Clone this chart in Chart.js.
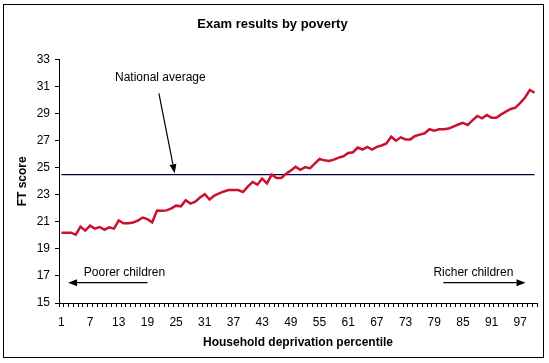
<!DOCTYPE html>
<html>
<head>
<meta charset="utf-8">
<script src="https://cdn.jsdelivr.net/npm/chart.js@4/dist/chart.umd.min.js"></script>
<style>
  html, body { margin: 0; padding: 0; background: #fff; }
  canvas { display: block; }
</style>
</head>
<body>
<canvas id="poverty" width="549" height="363"></canvas>
<script>
// categories: household deprivation percentile
const percentiles = [
  '1','2','3','4','5','6','7','8','9','10',
  '11','12','13','14','15','16','17','18','19','20',
  '21','22','23','24','25','26','27','28','29','30',
  '31','32','33','34','35','36','37','38','39','40',
  '41','42','43','44','45','46','47','48','49','50',
  '51','52','53','54','55','56','57','58','59','60',
  '61','62','63','64','65','66','67','68','69','70',
  '71','72','73','74','75','76','77','78','79','80',
  '81','82','83','84','85','86','87','88','89','90',
  '91','92','93','94','95','96','97','98','99','100'
];

// FT score
const ftScore = [
  20.2, 20.2, 20.2, 20.05, 20.65, 20.35, 20.72, 20.5, 20.62, 20.42,
  20.6, 20.5, 21.1, 20.9, 20.9, 20.95, 21.1, 21.32, 21.2, 20.97,
  21.84, 21.82, 21.85, 22.0, 22.2, 22.15, 22.6, 22.35, 22.5, 22.8,
  23.05, 22.65, 22.95, 23.1, 23.25, 23.35, 23.35, 23.35, 23.2, 23.6,
  23.95, 23.75, 24.2, 23.85, 24.5, 24.25, 24.25, 24.55, 24.8, 25.07,
  24.85, 25.05, 24.95, 25.3, 25.65, 25.55, 25.5, 25.6, 25.75, 25.85,
  26.1, 26.15, 26.5, 26.35, 26.55, 26.35, 26.55, 26.65, 26.8, 27.3,
  27.0, 27.25, 27.1, 27.1, 27.35, 27.45, 27.55, 27.85, 27.75, 27.85,
  27.85, 27.9, 28.05, 28.2, 28.33, 28.16, 28.5, 28.83, 28.66, 28.9,
  28.7, 28.7, 28.95, 29.15, 29.35, 29.45, 29.8, 30.2, 30.75, 30.55
];

const nationalAverage = 24.5;

// labels shown on the x axis
const tickLabels = ['1','7','13','19','25','31','37','43','49','55','61','67','73','79','85','91','97'];

// text notes and arrows, in data units (category index, score)
const notes = [
  { text: 'National average', x: 20.7, y: 31.65 },
  { text: 'Poorer children', x: 13.2, y: 17.25 },
  { text: 'Richer children', x: 86.2, y: 17.25 }
];
const arrows = [
  { from: [20.4, 30.5], to: [23.7, 24.6] },
  { from: [18.0, 16.5], to: [1.4, 16.5] },
  { from: [79.9, 16.5], to: [97.1, 16.5] }
];

const FONT = "'Liberation Sans', Arial, sans-serif";

// white background and thin frame round the whole chart
const frame = {
    id: 'frame',
    beforeDraw(chart) {
        const c = chart.ctx;
        c.save();
        c.fillStyle = '#fff';
        c.fillRect(0, 0, chart.width, chart.height);
        c.strokeStyle = '#000';
        c.lineWidth = 1;
        c.strokeRect(3.5, 4.5, chart.width - 9, chart.height - 10);
        c.restore();
    }
};

// annotation text and arrows
const notesPlugin = {
    id: 'notes',
    afterDatasetsDraw(chart) {
        const c = chart.ctx;
        const xs = chart.scales.x, ys = chart.scales.y;
        c.save();
        c.fillStyle = '#000';
        c.font = '12px ' + FONT;
        c.textAlign = 'center';
        c.textBaseline = 'middle';
        notes.forEach(n => {
            c.fillText(n.text, xs.getPixelForValue(n.x), ys.getPixelForValue(n.y));
        });
        c.strokeStyle = '#000';
        c.lineWidth = 1.2;
        arrows.forEach(a => {
            const x1 = xs.getPixelForValue(a.from[0]), y1 = ys.getPixelForValue(a.from[1]);
            const x2 = xs.getPixelForValue(a.to[0]), y2 = ys.getPixelForValue(a.to[1]);
            const ang = Math.atan2(y2 - y1, x2 - x1);
            const len = 9, half = 3.5;
            const bx = x2 - len * Math.cos(ang), by = y2 - len * Math.sin(ang);
            c.beginPath();
            c.moveTo(x1, y1);
            c.lineTo(bx, by);
            c.stroke();
            c.beginPath();
            c.moveTo(x2, y2);
            c.lineTo(bx + half * Math.sin(ang), by - half * Math.cos(ang));
            c.lineTo(bx - half * Math.sin(ang), by + half * Math.cos(ang));
            c.closePath();
            c.fill();
        });
        c.restore();
    }
};

const ctx = document.getElementById('poverty').getContext('2d');
const chart = new Chart(ctx, {
    type: 'line',
    data: {
        labels: percentiles,
        datasets: [
            {
                label: 'FT score',
                data: ftScore,
                borderColor: '#cc1030',
                borderWidth: 2.5,
                pointRadius: 0,
                fill: false
            },
            {
                label: 'National average',
                data: percentiles.map(() => nationalAverage),
                borderColor: '#000040',
                borderWidth: 1.2,
                pointRadius: 0,
                fill: false
            }
        ]
    },
    options: {
        responsive: false,
        animation: false,
        events: [],
        layout: { padding: { top: 6, left: 8, right: 12, bottom: 6 } },
        plugins: {
            legend: { display: false },
            tooltip: { enabled: false },
            title: {
                display: true,
                text: 'Exam results by poverty',
                color: '#000',
                font: { family: FONT, size: 13, weight: 'bold' },
                padding: { top: 11, bottom: 27 }
            }
        },
        scales: {
            x: {
                offset: true,
                grid: { offset: true, drawOnChartArea: false, tickLength: 4, color: '#000' },
                border: { color: '#000', width: 1 },
                ticks: {
                    autoSkip: false,
                    maxRotation: 0,
                    minRotation: 0,
                    padding: 8,
                    color: '#000',
                    font: { family: FONT, size: 12 },
                    callback(v, i) {
                        return tickLabels.includes(percentiles[i]) ? percentiles[i] : '';
                    }
                },
                title: {
                    display: true,
                    text: 'Household deprivation percentile',
                    color: '#000',
                    font: { family: FONT, size: 12, weight: 'bold' },
                    padding: { top: 0, bottom: 7 }
                },
                afterFit(s) { s.height = 54; }
            },
            y: {
                min: 15,
                max: 33,
                ticks: {
                    stepSize: 2,
                    padding: 5,
                    color: '#000',
                    font: { family: FONT, size: 12 }
                },
                grid: { drawOnChartArea: false, tickLength: 4, color: '#000' },
                border: { color: '#000', width: 1 },
                title: {
                    display: true,
                    text: 'FT score',
                    color: '#000',
                    font: { family: FONT, size: 12, weight: 'bold' },
                    padding: { top: 7, bottom: 0 }
                },
                afterFit(s) { s.width = 51; }
            }
        }
    },
    plugins: [frame, notesPlugin]
});
</script>
</body>
</html>
